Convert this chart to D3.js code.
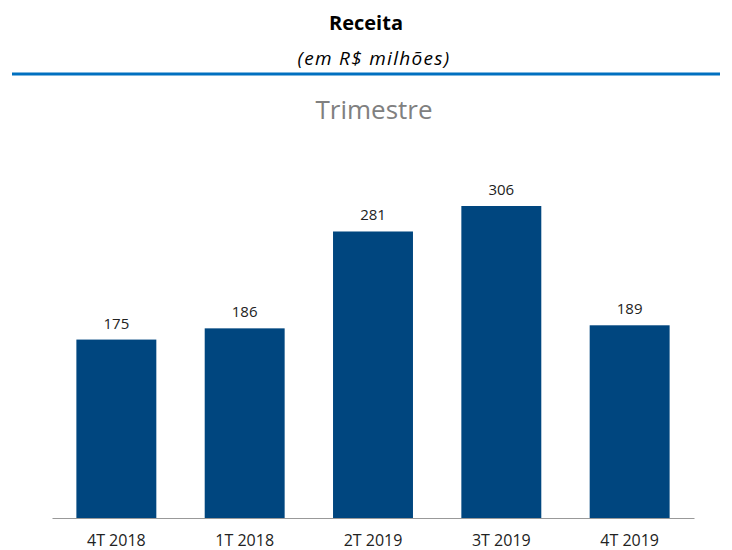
<!DOCTYPE html>
<html>
<head>
<meta charset="utf-8">
<script src="https://cdn.jsdelivr.net/npm/d3@7"></script>
<style>
  body { margin: 0; background: #fff; }
  text { font-family: "Open Sans", Lato, sans-serif; }
</style>
</head>
<body>
<div id="chart"></div>
<script>
// data
var quarters = ["4T 2018", "1T 2018", "2T 2019", "3T 2019", "4T 2019"];
var receita = [175, 186, 281, 306, 189];

var width = 732, height = 550;
var margin = {top: 206, right: 38, bottom: 32, left: 52};

var svg = d3.select("#chart")
    .append("svg")
    .attr("width", width)
    .attr("height", height);

// header
svg.append("text")
    .attr("x", 366).attr("y", 30)
    .attr("text-anchor", "middle")
    .style("font-size", "20px")
    .style("font-weight", "bold")
    .text("Receita");

svg.append("text")
    .attr("x", 374).attr("y", 65)
    .attr("text-anchor", "middle")
    .style("font-size", "19px")
    .style("font-style", "italic")
    .style("letter-spacing", "1.3px")
    .text("(em R$ milhões)");

svg.append("line")
    .attr("x1", 12).attr("x2", 720)
    .attr("y1", 74).attr("y2", 74)
    .attr("stroke", "#0070c0")
    .attr("stroke-width", 3);

svg.append("text")
    .attr("x", 374).attr("y", 119)
    .attr("text-anchor", "middle")
    .style("font-size", "26px")
    .style("fill", "#808080")
    .text("Trimestre");

// scales
var x = d3.scaleBand()
    .domain(quarters)
    .range([margin.left, width - margin.right])
    .paddingInner(0.377)
    .paddingOuter(0.19);

var y = d3.scaleLinear()
    .domain([0, 306])
    .range([height - margin.bottom, margin.top]);

// bars
svg.selectAll("rect.bar")
    .data(receita)
    .enter()
    .append("rect")
    .attr("class", "bar")
    .attr("x", function(d, i) { return x(quarters[i]); })
    .attr("y", function(d) { return y(d); })
    .attr("width", x.bandwidth())
    .attr("height", function(d) { return y(0) - y(d); })
    .attr("fill", "#00467f");

// value labels
svg.selectAll("text.val")
    .data(receita)
    .enter()
    .append("text")
    .attr("class", "val")
    .attr("x", function(d, i) { return x(quarters[i]) + x.bandwidth() / 2; })
    .attr("y", function(d) { return y(d) - 11; })
    .attr("text-anchor", "middle")
    .style("font-size", "15px")
    .style("fill", "#222")
    .text(function(d) { return d; });

// x axis
var xAxis = svg.append("g")
    .attr("transform", "translate(0," + y(0) + ")")
    .call(d3.axisBottom(x).tickSize(0).tickPadding(17).tickSizeOuter(0));

xAxis.select(".domain").attr("stroke", "#999");
xAxis.selectAll("text")
    .style("font-size", "16px")
    .style("fill", "#222")
    .style("font-family", "'Open Sans', Lato, sans-serif");
</script>
</body>
</html>
